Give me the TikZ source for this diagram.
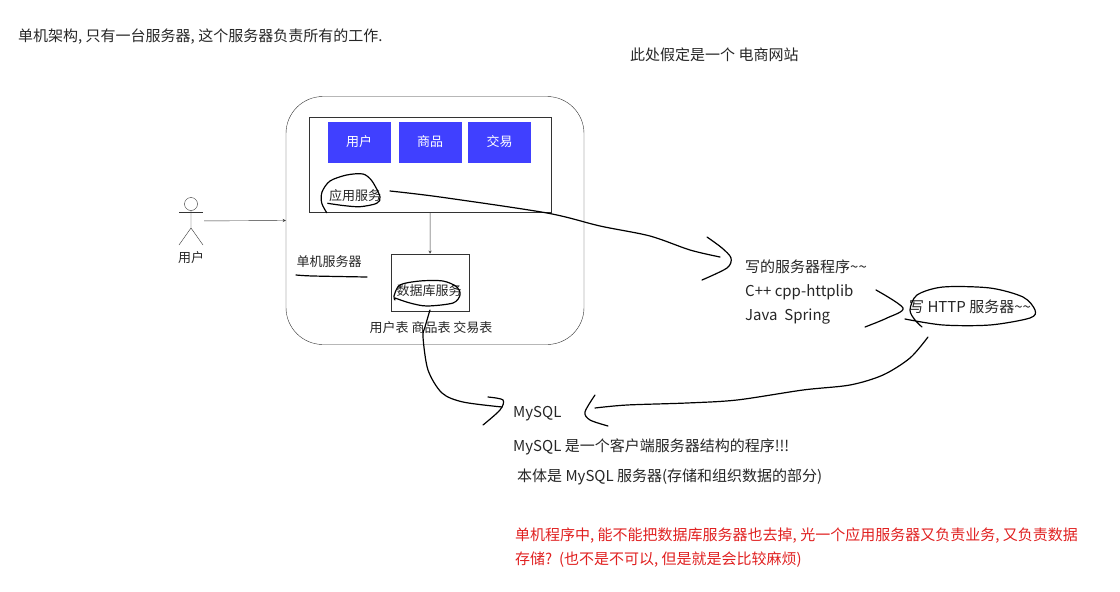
\documentclass[tikz,border=0pt]{standalone}
\usepackage{fontspec}
\setmainfont{Noto Sans CJK SC}
\usetikzlibrary{shapes.geometric}
\definecolor{bluebox}{HTML}{4040FF}
\definecolor{redtext}{HTML}{E02020}
\definecolor{linegray}{HTML}{333333}
\tikzset{
	note/.style={anchor=west, inner sep=0pt, font=\fontsize{15}{18}\selectfont, text=black!85},
	small/.style={inner sep=0pt, font=\fontsize{13}{16}\selectfont, text=black!85},
	module/.style={fill=bluebox, minimum width=63pt, minimum height=41pt, inner sep=0pt, text=white, font=\fontsize{13}{16}\selectfont},
	ink/.style={line width=1.2pt, line cap=round, line join=round},
}
\begin{document}
\begin{tikzpicture}[x=1pt, y=-1pt]
	\useasboundingbox (0,0) rectangle (1120,592);
	% boxes
	\node (SRV) at (435,220.5) [draw=linegray, rounded corners=37pt, minimum width=298pt, minimum height=248pt] {};
	\node (APP) at (430.25,164.5) [draw=linegray, minimum width=241.5pt, minimum height=95pt] {};
	\node (USER) at (359,142) [module] {用户};
	\node (GOODS) at (430,142) [module] {商品};
	\node (TRADE) at (499.5,142) [module] {交易};
	\node (DB) at (430,282.5) [draw=linegray, cylinder, shape border rotate=90, aspect=1.9, minimum width=78pt, minimum height=57pt, inner sep=0pt, small] {};
	% actor
	\node (ACT) at (191,221) [minimum width=26pt, minimum height=50pt, inner sep=0pt] {};
	\draw[linegray] (191,204) circle (6.5);
	\draw[linegray] (191,210.5) -- (191,228) -- (179,245);
	\draw[linegray] (191,228) -- (203,245);
	\draw[linegray] (179,212.5) -- (203,212.5);
	\draw[linegray, -stealth] (ACT) -- (SRV.west);
	\draw[linegray, -stealth] (APP) -- (DB);
	% labels
	\node (ACTL) at (191,258) [small] {用户};
	\node (APPL) at (355,196) [small] {应用服务};
	\node (DBL) at (429,291) [small] {数据库服务};
	\node (SRVL) at (329,262) [small] {单机服务器};
	\node (TBL) at (431,328) [small] {用户表 商品表 交易表};
	\node (N1) at (18,37) [note] {单机架构, 只有一台服务器, 这个服务器负责所有的工作.};
	\node (N2) at (630,55) [note] {此处假定是一个 电商网站};
	\node (N3) at (745,267) [note] {写的服务器程序\textasciitilde\textasciitilde};
	\node (N4) at (745,292) [note] {C++ cpp-httplib};
	\node (N5) at (745,317) [note] {Java\ \ Spring};
	\node (N6) at (909,307) [note] {写 HTTP 服务器\textasciitilde\textasciitilde};
	\node (N7) at (513,414) [note] {MySQL};
	\node (N8) at (513,447) [note] {MySQL 是一个客户端服务器结构的程序!!!};
	\node (N9) at (517,477) [note] {本体是 MySQL 服务器(存储和组织数据的部分)};
	\node (N10) at (515,536) [note, text=redtext] {单机程序中, 能不能把数据库服务器也去掉, 光一个应用服务器又负责业务, 又负责数据};
	\node (N11) at (515,560) [note, text=redtext] {存储?\ \ (也不是不可以, 但是就是会比较麻烦)};
	% hand strokes
	\coordinate (A1) at (390,191);
	\coordinate (A2) at (720,257);
	\coordinate (B1) at (430,310);
	\coordinate (B2) at (502,407);
	\coordinate (C1) at (928,337);
	\coordinate (C2) at (595,408);
	\draw[ink] plot[smooth] coordinates {(326.7,212.7) (321.7,203) (322,192) (330,181) (346.7,175) (363,174) (372,181) (380,196.7) (376.7,203.3) (360,206.7) (343,205.5) (327.7,203.3)};
	\draw[ink] plot[smooth] coordinates {(A1) (440,197) (547,213) (600,226) (650,236) (690,250) (A2)};
	\draw[ink] plot[smooth] coordinates {(707,237) (722,248) (731,258) (727,268) (702,280)};
	\draw[ink] plot[smooth] coordinates {(296,275) (313,276) (367,277)};
	\draw[ink] plot[smooth] coordinates {(395,300) (394,296) (400,285) (420,281) (443,281) (457,287) (460,295) (453,303) (427,306) (410,303) (395,298)};
	\draw[ink] plot[smooth] coordinates {(B1) (425,327) (423,337) (428,370) (442,393) (463,402) (B2)};
	\draw[ink] plot[smooth] coordinates {(488,397) (503,400) (500,410) (483,425)};
	\draw[ink] plot[smooth] coordinates {(C1) (910,358) (883,375) (850,385) (803,390) (737,400) (687,403) (627,405) (C2)};
	\draw[ink] plot[smooth] coordinates {(595,395) (585,412) (590,420) (608,426)};
	\draw[ink] plot[smooth] coordinates {(876,290) (903,308) (887,318) (865,327)};
	\draw[ink] plot[smooth] coordinates {(922,327) (915,320) (910,310) (917,295) (943,287) (990,288) (1023,297) (1035,310) (1030,318) (990,325) (943,325) (905,319)};
\end{tikzpicture}
\end{document}
